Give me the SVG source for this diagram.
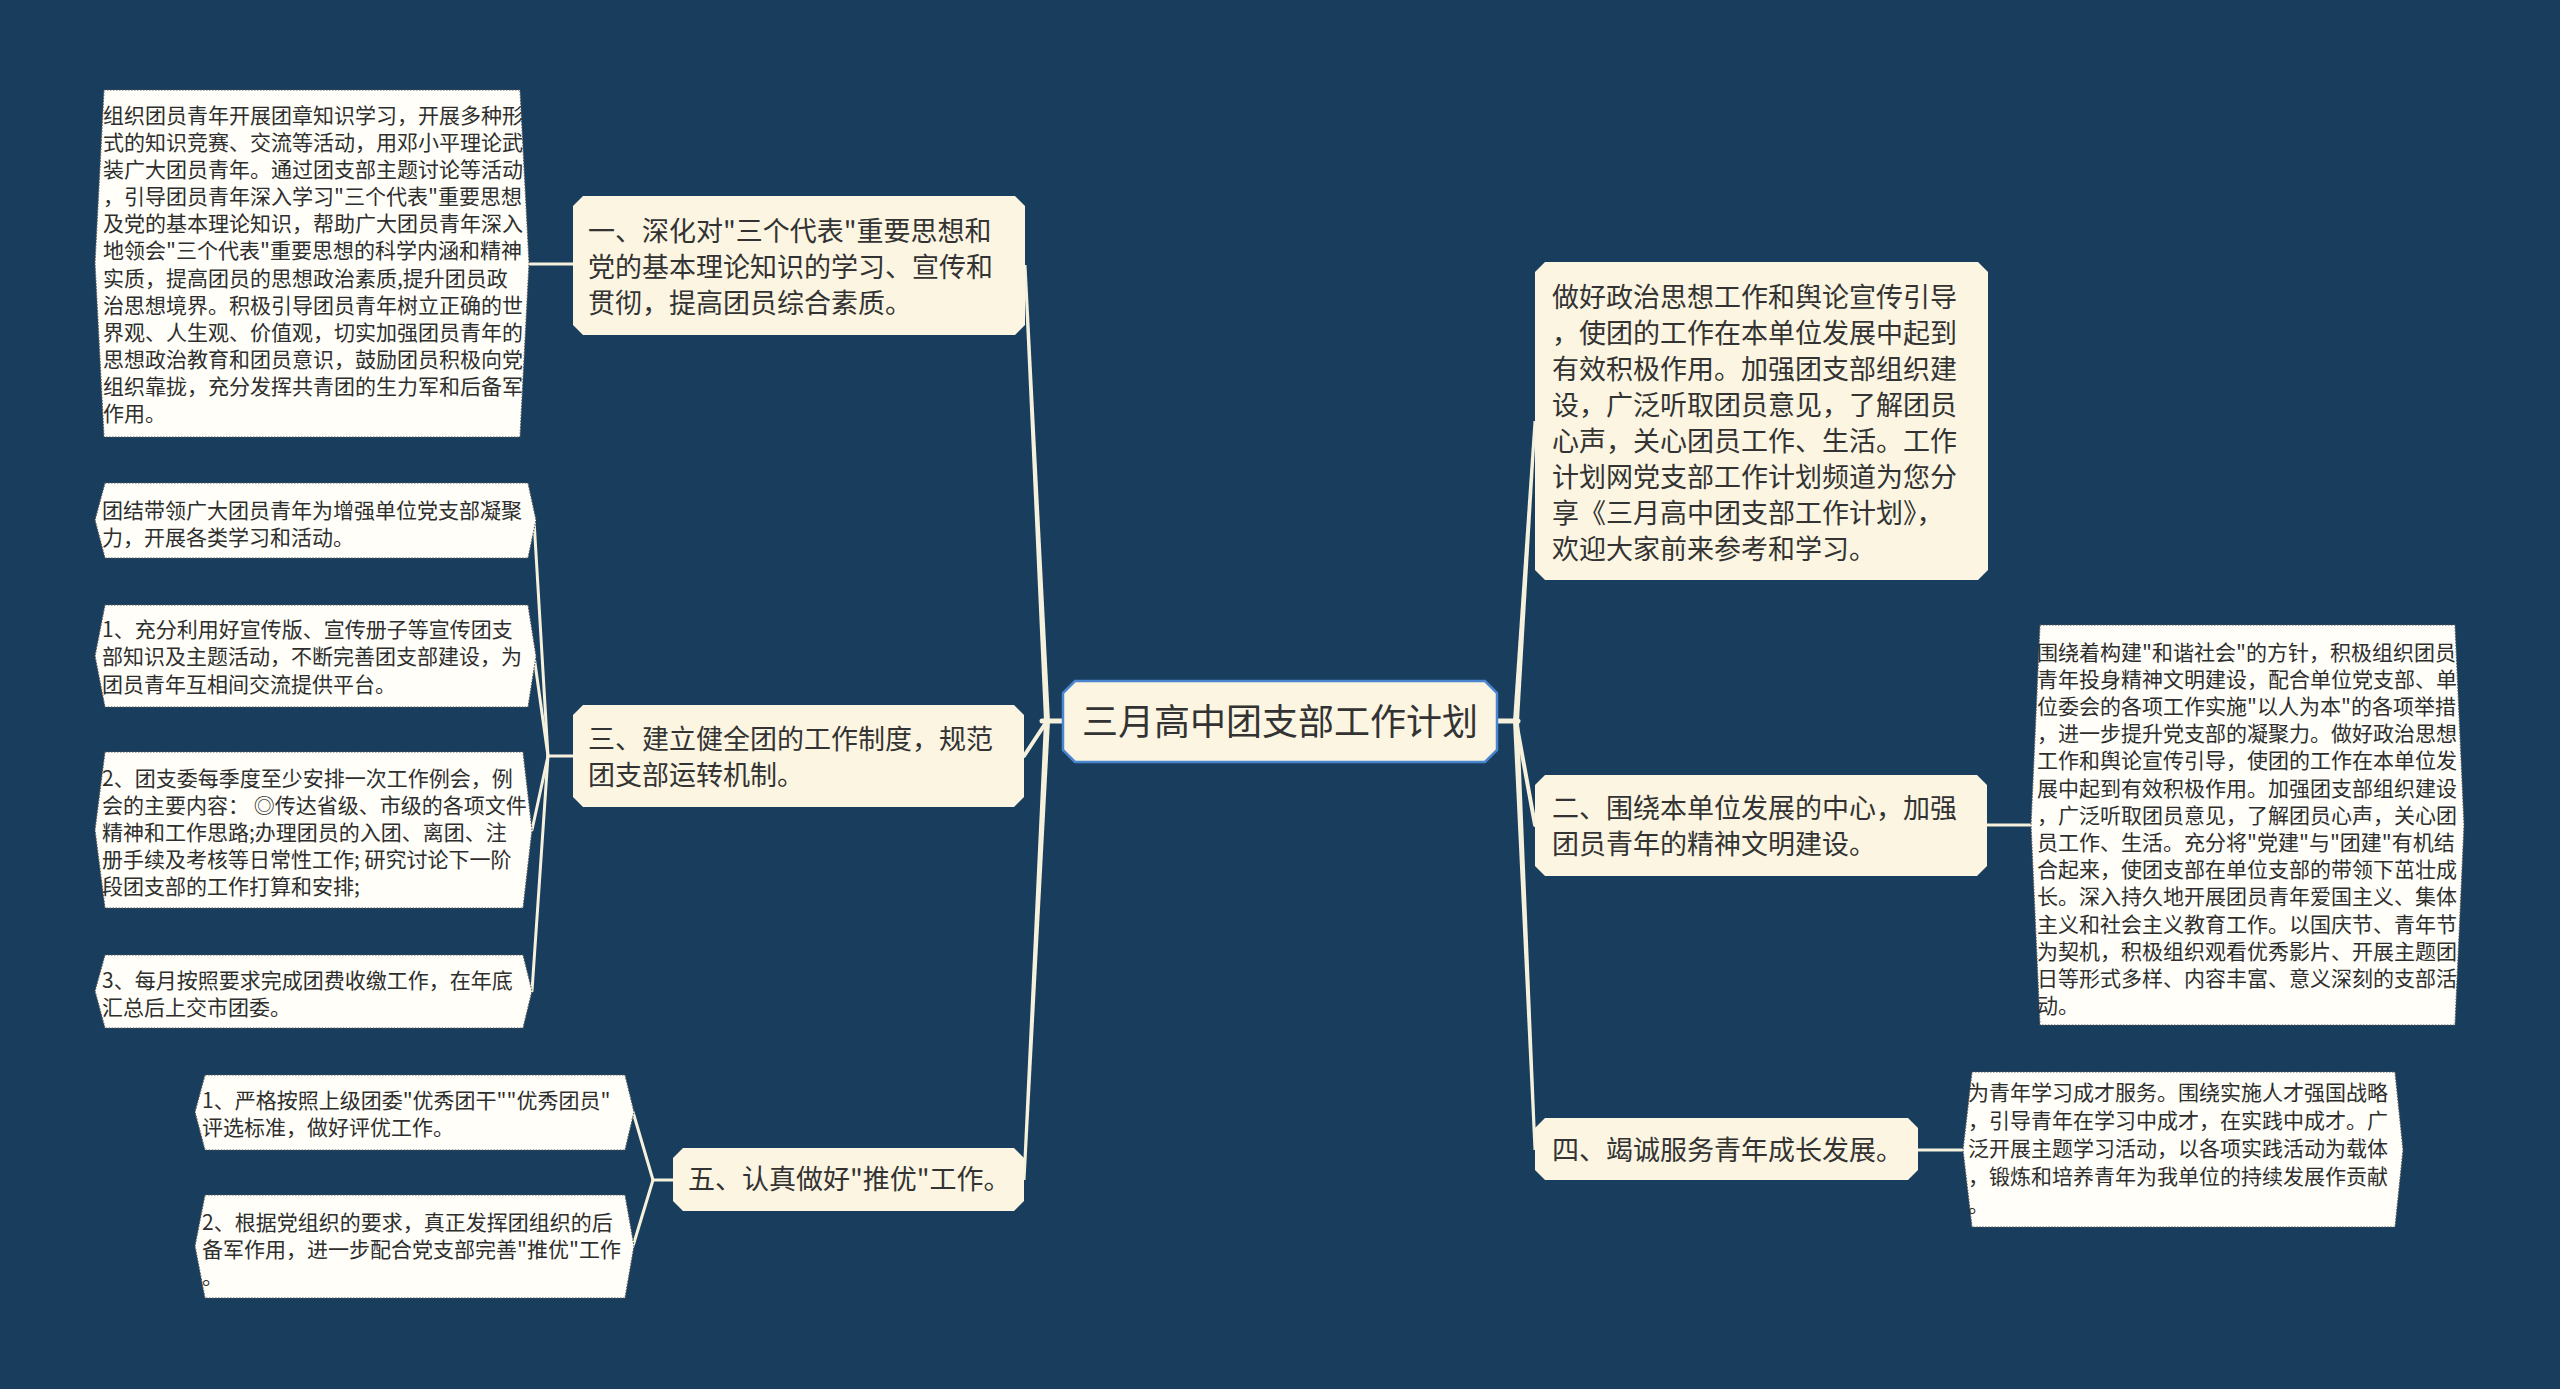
<svg xmlns="http://www.w3.org/2000/svg" width="2560" height="1389" viewBox="0 0 2560 1389">
<style>
.t1{font-family:"Noto Sans CJK SC","Noto Sans",sans-serif;font-size:27px;fill:#333333}
.t2{font-family:"Noto Sans CJK SC","Noto Sans",sans-serif;font-size:21px;fill:#2e2e2e}
.t0{font-family:"Noto Sans CJK SC","Noto Sans",sans-serif;font-size:36px;fill:#333333}
.n1{fill:#fbf5e1}
.n2{fill:#fffef8;stroke:#5a5a5a;stroke-width:1.2;stroke-dasharray:1.5 1.5}
.c{stroke:#f6f1dc;fill:none;stroke-linecap:round}
.cp{fill:#f6f1dc}
</style>
<rect width="2560" height="1389" fill="#183d5d"/>
<g id="connectors">
<line class="c" x1="1042" y1="721" x2="1066" y2="721" stroke-width="5"/>
<polygon class="cp" points="1044,721 1050,721 1026.5,265 1023.5,265"/>
<polygon class="cp" points="1044,721 1050,721 1025.5,1180 1022.5,1180"/>
<line class="c" x1="1047" y1="721" x2="1024" y2="756" stroke-width="4"/>
<line class="c" x1="1494" y1="721" x2="1518" y2="721" stroke-width="5"/>
<polygon class="cp" points="1513,721 1519,721 1536.5,421 1533.5,421"/>
<polygon class="cp" points="1513,721 1519,721 1536.5,1150 1533.5,1150"/>
<line class="c" x1="1516" y1="721" x2="1535" y2="825" stroke-width="4"/>
<line class="c" x1="520" y1="264" x2="575" y2="264" stroke-width="3"/>
<line class="c" x1="548" y1="756" x2="575" y2="756" stroke-width="3"/>
<line class="c" x1="548" y1="756" x2="534" y2="520" stroke-width="3"/>
<line class="c" x1="548" y1="756" x2="534" y2="656" stroke-width="3"/>
<line class="c" x1="548" y1="756" x2="532" y2="830" stroke-width="3"/>
<line class="c" x1="548" y1="756" x2="532" y2="991" stroke-width="3"/>
<line class="c" x1="653" y1="1180" x2="675" y2="1180" stroke-width="3"/>
<line class="c" x1="653" y1="1180" x2="633" y2="1112" stroke-width="3"/>
<line class="c" x1="653" y1="1180" x2="633" y2="1246" stroke-width="3"/>
<line class="c" x1="1985" y1="825" x2="2035" y2="825" stroke-width="3"/>
<line class="c" x1="1916" y1="1150" x2="1965" y2="1150" stroke-width="3"/>
</g>
<g id="center">
<polygon points="1075,681 1485,681 1497,693 1497,750 1485,762 1075,762 1063,750 1063,693" fill="#fbf5e1" stroke="#4a86d0" stroke-width="2.5"/>
<text class="t0" x="1280" y="735" text-anchor="middle">三月高中团支部工作计划</text>
</g>
<g id="n1">
<polygon class="n1" points="583,196 1015,196 1025,206 1025,325 1015,335 583,335 573,325 573,206"/>
<text class="t1" x="588" y="241">一、深化对"三个代表"重要思想和</text>
<text class="t1" x="588" y="277">党的基本理论知识的学习、宣传和</text>
<text class="t1" x="588" y="313">贯彻，提高团员综合素质。</text>
</g>
<g id="n3">
<polygon class="n1" points="583,705 1014,705 1024,715 1024,797 1014,807 583,807 573,797 573,715"/>
<text class="t1" x="588" y="749">三、建立健全团的工作制度，规范</text>
<text class="t1" x="588" y="785">团支部运转机制。</text>
</g>
<g id="n5">
<polygon class="n1" points="683,1148 1014,1148 1024,1158 1024,1201 1014,1211 683,1211 673,1201 673,1158"/>
<text class="t1" x="688" y="1189">五、认真做好"推优"工作。</text>
</g>
<g id="r0">
<polygon class="n1" points="1545,262 1978,262 1988,272 1988,570 1978,580 1545,580 1535,570 1535,272"/>
<text class="t1" x="1552" y="307">做好政治思想工作和舆论宣传引导</text>
<text class="t1" x="1552" y="343">，使团的工作在本单位发展中起到</text>
<text class="t1" x="1552" y="379">有效积极作用。加强团支部组织建</text>
<text class="t1" x="1552" y="415">设，广泛听取团员意见，了解团员</text>
<text class="t1" x="1552" y="451">心声，关心团员工作、生活。工作</text>
<text class="t1" x="1552" y="487">计划网党支部工作计划频道为您分</text>
<text class="t1" x="1552" y="523">享《三月高中团支部工作计划》，</text>
<text class="t1" x="1552" y="559">欢迎大家前来参考和学习。</text>
</g>
<g id="r2">
<polygon class="n1" points="1545,775 1977,775 1987,785 1987,866 1977,876 1545,876 1535,866 1535,785"/>
<text class="t1" x="1552" y="818">二、围绕本单位发展的中心，加强</text>
<text class="t1" x="1552" y="854">团员青年的精神文明建设。</text>
</g>
<g id="r4">
<polygon class="n1" points="1545,1118 1908,1118 1918,1128 1918,1170 1908,1180 1545,1180 1535,1170 1535,1128"/>
<text class="t1" x="1552" y="1160">四、竭诚服务青年成长发展。</text>
</g>
<g id="l1a">
<polygon class="n2" points="104,90 520,90 529,263 520,437 104,437 95,263"/>
<text class="t2" x="103" y="123">组织团员青年开展团章知识学习，开展多种形</text>
<text class="t2" x="103" y="150">式的知识竞赛、交流等活动，用邓小平理论武</text>
<text class="t2" x="103" y="177">装广大团员青年。通过团支部主题讨论等活动</text>
<text class="t2" x="103" y="204">，引导团员青年深入学习"三个代表"重要思想</text>
<text class="t2" x="103" y="231">及党的基本理论知识，帮助广大团员青年深入</text>
<text class="t2" x="103" y="258">地领会"三个代表"重要思想的科学内涵和精神</text>
<text class="t2" x="103" y="286">实质，提高团员的思想政治素质,提升团员政</text>
<text class="t2" x="103" y="313">治思想境界。积极引导团员青年树立正确的世</text>
<text class="t2" x="103" y="340">界观、人生观、价值观，切实加强团员青年的</text>
<text class="t2" x="103" y="367">思想政治教育和团员意识，鼓励团员积极向党</text>
<text class="t2" x="103" y="394">组织靠拢，充分发挥共青团的生力军和后备军</text>
<text class="t2" x="103" y="421">作用。</text>
</g>
<g id="l3a">
<polygon class="n2" points="105,483 528,483 536,520 528,558 105,558 95,520"/>
<text class="t2" x="102" y="518">团结带领广大团员青年为增强单位党支部凝聚</text>
<text class="t2" x="102" y="545">力，开展各类学习和活动。</text>
</g>
<g id="l3b">
<polygon class="n2" points="105,605 528,605 536,656 528,707 105,707 95,656"/>
<text class="t2" x="102" y="637">1、充分利用好宣传版、宣传册子等宣传团支</text>
<text class="t2" x="102" y="664">部知识及主题活动，不断完善团支部建设，为</text>
<text class="t2" x="102" y="692">团员青年互相间交流提供平台。</text>
</g>
<g id="l3c">
<polygon class="n2" points="105,752 523,752 532,830 523,908 105,908 95,830"/>
<text class="t2" x="102" y="786">2、团支委每季度至少安排一次工作例会，例</text>
<text class="t2" x="102" y="813">会的主要内容： ◎传达省级、市级的各项文件</text>
<text class="t2" x="102" y="840">精神和工作思路;办理团员的入团、离团、注</text>
<text class="t2" x="102" y="867">册手续及考核等日常性工作; 研究讨论下一阶</text>
<text class="t2" x="102" y="894">段团支部的工作打算和安排;</text>
</g>
<g id="l3d">
<polygon class="n2" points="105,955 523,955 532,991 523,1028 105,1028 95,991"/>
<text class="t2" x="102" y="988">3、每月按照要求完成团费收缴工作，在年底</text>
<text class="t2" x="102" y="1015">汇总后上交市团委。</text>
</g>
<g id="l5a">
<polygon class="n2" points="205,1075 625,1075 634,1112 625,1150 205,1150 195,1112"/>
<text class="t2" x="202" y="1108">1、严格按照上级团委"优秀团干""优秀团员"</text>
<text class="t2" x="202" y="1135">评选标准，做好评优工作。</text>
</g>
<g id="l5b">
<polygon class="n2" points="205,1195 625,1195 634,1246 625,1298 205,1298 195,1246"/>
<text class="t2" x="202" y="1230">2、根据党组织的要求，真正发挥团组织的后</text>
<text class="t2" x="202" y="1257">备军作用，进一步配合党支部完善"推优"工作</text>
<text class="t2" x="202" y="1284">。</text>
</g>
<g id="r2a">
<polygon class="n2" points="2040,625 2455,625 2464,825 2455,1025 2040,1025 2031,825"/>
<text class="t2" x="2037" y="660">围绕着构建"和谐社会"的方针，积极组织团员</text>
<text class="t2" x="2037" y="687">青年投身精神文明建设，配合单位党支部、单</text>
<text class="t2" x="2037" y="714">位委会的各项工作实施"以人为本"的各项举措</text>
<text class="t2" x="2037" y="741">，进一步提升党支部的凝聚力。做好政治思想</text>
<text class="t2" x="2037" y="768">工作和舆论宣传引导，使团的工作在本单位发</text>
<text class="t2" x="2037" y="796">展中起到有效积极作用。加强团支部组织建设</text>
<text class="t2" x="2037" y="823">，广泛听取团员意见，了解团员心声，关心团</text>
<text class="t2" x="2037" y="850">员工作、生活。充分将"党建"与"团建"有机结</text>
<text class="t2" x="2037" y="877">合起来，使团支部在单位支部的带领下茁壮成</text>
<text class="t2" x="2037" y="904">长。深入持久地开展团员青年爱国主义、集体</text>
<text class="t2" x="2037" y="932">主义和社会主义教育工作。以国庆节、青年节</text>
<text class="t2" x="2037" y="959">为契机，积极组织观看优秀影片、开展主题团</text>
<text class="t2" x="2037" y="986">日等形式多样、内容丰富、意义深刻的支部活</text>
<text class="t2" x="2037" y="1013">动。</text>
</g>
<g id="r4a">
<polygon class="n2" points="1972,1072 2395,1072 2403,1150 2395,1227 1972,1227 1963,1150"/>
<text class="t2" x="1968" y="1100">为青年学习成才服务。围绕实施人才强国战略</text>
<text class="t2" x="1968" y="1128">，引导青年在学习中成才，在实践中成才。广</text>
<text class="t2" x="1968" y="1156">泛开展主题学习活动，以各项实践活动为载体</text>
<text class="t2" x="1968" y="1184">，锻炼和培养青年为我单位的持续发展作贡献</text>
<text class="t2" x="1968" y="1212">。</text>
</g>
</svg>
